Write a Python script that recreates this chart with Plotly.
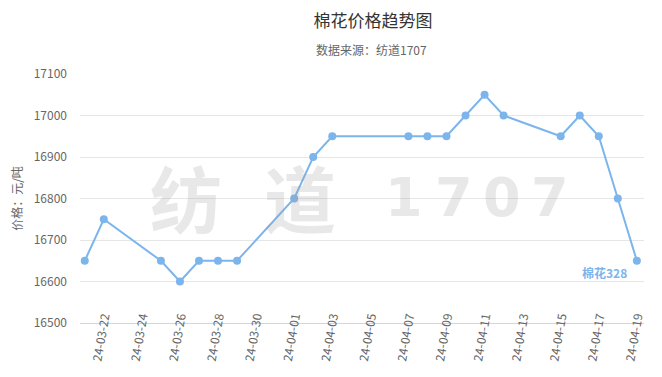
import plotly.graph_objects as go

dates = ["2024-03-21", "2024-03-22", "2024-03-25", "2024-03-26", "2024-03-27",
         "2024-03-28", "2024-03-29", "2024-04-01", "2024-04-02", "2024-04-03",
         "2024-04-07", "2024-04-08", "2024-04-09", "2024-04-10", "2024-04-11",
         "2024-04-12", "2024-04-15", "2024-04-16", "2024-04-17", "2024-04-18",
         "2024-04-19"]
prices = [16650, 16750, 16650, 16600, 16650,
          16650, 16650, 16800, 16900, 16950,
          16950, 16950, 16950, 17000, 17050,
          17000, 16950, 17000, 16950, 16800,
          16650]
y_ticks = [16500, 16600, 16700, 16800, 16900, 17000, 17100]
y_tick_labels = [str(v) for v in y_ticks]
series_label = "棉花328"
title = "棉花价格趋势图"
subtitle = "数据来源：纺道1707"
y_title = "价格：元/吨"
watermark_cjk = ["纺", "道"]
watermark_num = ["1", "7", "0", "7"]

FONT = "Noto Sans CJK SC"
BLUE = "#7cb5ec"
WM = "rgba(160,160,160,0.24)"

# page offset (default body margin of the html page)
OFF = 8
FW, FH = 662 - OFF, 377 - OFF
# target screen positions of the plot area
L, R, T, B = 80, 644, 74, 323
W, H = R - L, B - T


def px(x):
    return (x - L) / W


def py(y):
    return (B - y) / H


fig = go.Figure()
fig.add_trace(go.Scatter(
    x=dates, y=prices, mode="lines+markers",
    line=dict(color=BLUE, width=2),
    marker=dict(color=BLUE, size=8),
    name=series_label, showlegend=False,
    hoverinfo="x+y",
))

annotations = []
# watermark (each glyph placed separately to mimic the wide lettering)
for ch, cx in zip(watermark_cjk, [186, 300]):
    annotations.append(dict(
        text="<b>" + ch + "</b>", xref="paper", yref="paper",
        x=px(cx), y=py(195), xanchor="center", yanchor="middle",
        showarrow=False, font=dict(family=FONT, size=72, color=WM)))
for ch, cx in zip(watermark_num, [404, 454, 502, 550]):
    annotations.append(dict(
        text="<b>" + ch + "</b>", xref="paper", yref="paper",
        x=px(cx), y=py(197), xanchor="center", yanchor="middle",
        showarrow=False, font=dict(family="DejaVu Sans", size=54, color=WM)))
# subtitle
annotations.append(dict(
    text=subtitle, xref="paper", yref="paper", x=px(371), y=py(49),
    xanchor="center", yanchor="middle", showarrow=False,
    font=dict(family=FONT, size=12, color="#666666")))
# series label near last point
annotations.append(dict(
    text="<b>" + series_label + "</b>", x=dates[-1], y=prices[-1], xref="x", yref="y",
    xanchor="right", yanchor="middle", xshift=-8, yshift=-12, showarrow=False,
    font=dict(family=FONT, size=12, color=BLUE)))

fig.update_layout(
    width=FW, height=FH,
    margin=dict(l=L - OFF, r=662 - R, t=T - OFF, b=377 - B, autoexpand=False),
    paper_bgcolor="white", plot_bgcolor="white",
    font=dict(family=FONT, color="#666666", size=12),
    title=dict(text=title, x=(373 - OFF) / FW, xanchor="center", xref="container",
               y=1 - (21 - OFF) / FH, yanchor="middle", yref="container",
               font=dict(family=FONT, size=17, color="#333333")),
    annotations=annotations,
    xaxis=dict(
        type="date", automargin=False,
        range=["2024-03-20 18:00", "2024-04-19 09:00"],
        tick0="2024-03-22", dtick=2 * 86400000,
        tickformat="%y-%m-%d", tickangle=-80,
        showgrid=False, showline=True, linecolor="#ccd6eb", linewidth=1,
        ticks="", zeroline=False,
        tickfont=dict(family=FONT, size=12, color="#666666"),
        ticklabelstandoff=-19,
    ),
    yaxis=dict(
        automargin=False,
        range=[16500, 17100], tickvals=y_ticks, ticktext=y_tick_labels,
        showgrid=True, gridcolor="#e6e6e6", gridwidth=1,
        zeroline=False, showline=False, ticks="",
        tickfont=dict(family=FONT, size=12, color="#666666"),
        ticklabelstandoff=12,
        title=dict(text=y_title, standoff=22,
                   font=dict(family=FONT, size=12, color="#666666")),
    ),
)

fig.write_html("out.html")
